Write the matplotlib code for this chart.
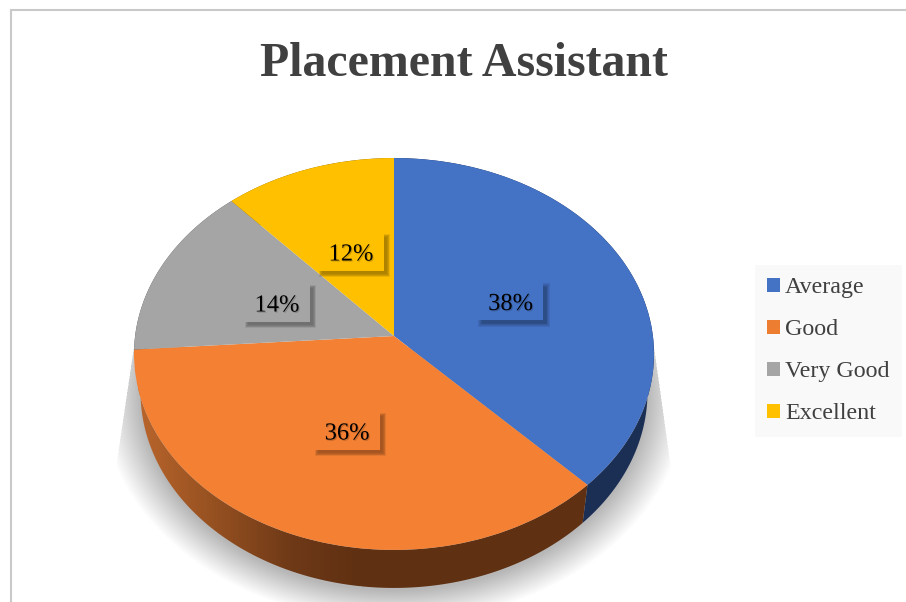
import numpy as np
import matplotlib
matplotlib.use("Agg")
import matplotlib.pyplot as plt
from matplotlib.colors import LinearSegmentedColormap
from matplotlib.patches import Polygon, Rectangle
from matplotlib.transforms import Transform
import matplotlib.patheffects as pe

categories = ["Average", "Good", "Very Good", "Excellent"]
values = [37.7, 36.2, 14.4, 11.7]
title = "Placement Assistant"

face_colors = ["#4472c4", "#f38033", "#a5a5a5", "#ffc000"]
legend_colors = ["#4472c4", "#ed7d31", "#a5a5a5", "#ffc000"]
wall_colors = ["#1b2e54", "#5f3012", "#555555", "#7f6000"]
label_centers = [(510.5, 301.5), (347, 431), (277, 303), (351, 252)]

W, H = 906, 602
CX, CY, A, B, K = 394.0, 336.0, 194.3, 258.9, 0.0918
DEPTH, XS = 38.0, 0.975

plt.rcParams["font.family"] = ["Liberation Serif", "DejaVu Serif"]


def project(x, y):
    w = 1 + K * y
    return CX + B * x / w, CY - A * y / w


def lower(px, py, grow=1.0, drop=DEPTH):
    mid = CY + 14
    return CX + XS * grow * (px - CX), mid + drop + grow * (py - mid)


class Perspective(Transform):
    input_dims = output_dims = 2
    is_separable = False
    has_inverse = False

    def transform_non_affine(self, values):
        v = np.asarray(values, dtype=float)
        px, py = project(v[:, 0], v[:, 1])
        return np.column_stack([px, py])


fig = plt.figure(figsize=(W / 100, H / 100), dpi=100, facecolor="white")
ax = fig.add_axes([0, 0, 1, 1])

wedges, _ = ax.pie(values, colors=face_colors, startangle=90, counterclock=False,
                   radius=1, wedgeprops=dict(linewidth=0))
ax.set_aspect("auto")
ax.set_xlim(0, W)
ax.set_ylim(H, 0)
ax.set_axis_off()
ax.set_autoscale_on(False)

persp = Perspective()
for w in wedges:
    w.set_transform(persp + ax.transData)
    w.set_zorder(5)
    w.set_clip_on(False)

# frame
ax.plot([10.5, 10.5, W], [H, 10, 10], color="#c9c9c9", lw=1.5, zorder=1,
        solid_joinstyle="miter")

# soft shadow below the disc
t = np.linspace(0, 2 * np.pi, 361)
ox, oy = project(np.cos(t), np.sin(t))
clip = Polygon([(134, 347), (654, 347), (671, 468), (676, H), (112, H), (116, 468)],
               closed=True, transform=ax.transData, facecolor="none", edgecolor="none")
ax.add_patch(clip)
n = 36
for i in range(n):
    d = 40 * (1 - i / (n - 1))
    grow = 1 + d / 260
    sx, sy = lower(ox, oy, grow=grow, drop=DEPTH + 3)
    p = ax.fill(sx, sy, color="black", alpha=0.0075, lw=0, zorder=2)[0]
    p.set_clip_path(clip)

# side walls, from the same slice angles as the top
fractions = np.cumsum([0] + values) / np.sum(values)
orange_cmap = LinearSegmentedColormap.from_list(
    "wall", [(0, "#b9652c"), (0.3, "#9a5322"), (0.7, "#6e3917"), (1, "#5f3012")])
for i, (f0, f1) in enumerate(zip(fractions[:-1], fractions[1:])):
    ang = np.linspace(f0, f1, 200) * 2 * np.pi
    tx, ty = project(np.sin(ang), np.cos(ang))
    bx, by = lower(tx, ty)
    poly = np.vstack([np.column_stack([tx, ty]),
                      np.column_stack([bx, by])[::-1]])
    if i == 1:
        im = ax.imshow(np.linspace(0, 1, 256)[None, :], cmap=orange_cmap, aspect="auto",
                       extent=(138, 360, H, 300), zorder=3, interpolation="bilinear")
        ax.fill(np.clip(poly[:, 0], 360, None), poly[:, 1], color=wall_colors[i],
                lw=0, zorder=3)
        pg = Polygon(poly, closed=True, transform=ax.transData, facecolor="none",
                     edgecolor="none")
        ax.add_patch(pg)
        im.set_clip_path(pg)
    else:
        ax.fill(poly[:, 0], poly[:, 1], color=wall_colors[i], lw=0, zorder=3)

ax.set_xlim(0, W)
ax.set_ylim(H, 0)

# percentage labels with soft-shadowed boxes
box_w, box_h = 65, 37
for v, c, (lx, ly) in zip(values, face_colors, label_centers):
    for g in range(4, -1, -1):
        ax.add_patch(Rectangle((lx - box_w / 2 + 3.5 - g * 0.8, ly - box_h / 2 + 3.5 - g * 0.8),
                               box_w + g * 1.6, box_h + g * 1.6, facecolor="black",
                               edgecolor="none", alpha=0.07, zorder=6))
    ax.add_patch(Rectangle((lx - box_w / 2, ly - box_h / 2), box_w, box_h, facecolor=c,
                           edgecolor="none", zorder=6))
    ax.text(lx, ly + 3, f"{v:.0f}%", ha="center", va="center",
            fontsize=17.6, color="black", zorder=7,
            path_effects=[pe.withSimplePatchShadow(offset=(0.8, -0.8), shadow_rgbFace="black",
                                                   alpha=0.18)])

# legend
leg = ax.legend(wedges, categories, loc="upper left", bbox_to_anchor=(755, 265),
                bbox_transform=ax.transData, frameon=True, fancybox=False,
                facecolor="#f9f9f9", edgecolor="none", framealpha=1, fontsize=17.3,
                handlelength=0.5, handleheight=0.5, handletextpad=0.22, labelspacing=0.87,
                borderpad=0.52, borderaxespad=0, labelcolor="#404040")
leg.set_zorder(8)
for h, c in zip(leg.legend_handles, legend_colors):
    h.set_facecolor(c)

ax.set_title(title, y=1 - 64 / H, pad=0, va="center", x=464 / W, fontsize=34.5,
             fontweight="bold", color="#404040")

fig.savefig("out.png", dpi=100, facecolor="white")
